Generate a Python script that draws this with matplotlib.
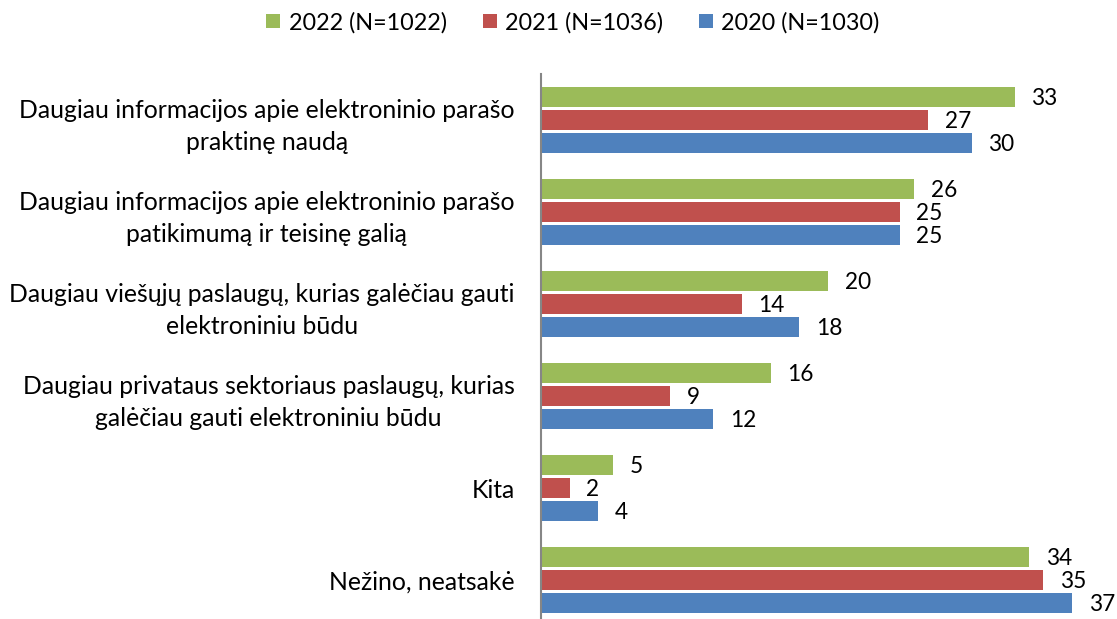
import matplotlib.pyplot as plt
import numpy as np

plt.rcParams['font.family'] = ['Lato', 'DejaVu Sans']

# Data
categories = [
    "Daugiau informacijos apie elektroninio parašo\npraktinę naudą",
    "Daugiau informacijos apie elektroninio parašo\npatikimumą ir teisinę galią",
    "Daugiau viešųjų paslaugų, kurias galėčiau gauti\nelektroniniu būdu",
    "Daugiau privataus sektoriaus paslaugų, kurias\ngalėčiau gauti elektroniniu būdu",
    "Kita",
    "Nežino, neatsakė",
]
series_names = ["2022 (N=1022)", "2021 (N=1036)", "2020 (N=1030)"]
v2022 = [33, 26, 20, 16, 5, 34]
v2021 = [27, 25, 14, 9, 2, 35]
v2020 = [30, 25, 18, 12, 4, 37]
colors = ["#9BBB59", "#C0504D", "#4F81BD"]

fig = plt.figure(figsize=(11.17, 6.19), dpi=100)
ax = fig.add_axes([541 / 1117, 1 - 626 / 619, 574 / 1117, 552 / 619])

y = np.arange(len(categories))
offsets = [-0.25, 0, 0.25]
for vals, off, col, name in zip([v2022, v2021, v2020], offsets, colors, series_names):
    bars = ax.barh(y + off, vals, height=0.207, color=col, label=name)
    for b, v in zip(bars, vals):
        ax.annotate(str(v), (b.get_width(), b.get_y() + b.get_height() / 2),
                    xytext=(12, -1), textcoords="offset points",
                    ha="left", va="center", fontsize=16.3)

ax.set_xlim(0, 40)
ax.set_ylim(len(categories) - 0.5, -0.5)
ax.set_yticks(y)
ax.set_yticklabels(categories, fontsize=17.8, multialignment="center", linespacing=1.5)
ax.tick_params(axis="y", length=0, pad=19)
ax.set_xticks([])
for s in ["top", "right", "bottom"]:
    ax.spines[s].set_visible(False)
ax.spines["left"].set_color("#868686")
ax.spines["left"].set_linewidth(1.5)

fig.legend(loc="upper center", bbox_to_anchor=(0.513, 1.015), ncol=3, frameon=False,
           fontsize=16.8, handlelength=0.6, handleheight=0.6, handletextpad=0.35,
           columnspacing=1.55)

fig.savefig("out.png", dpi=100)
